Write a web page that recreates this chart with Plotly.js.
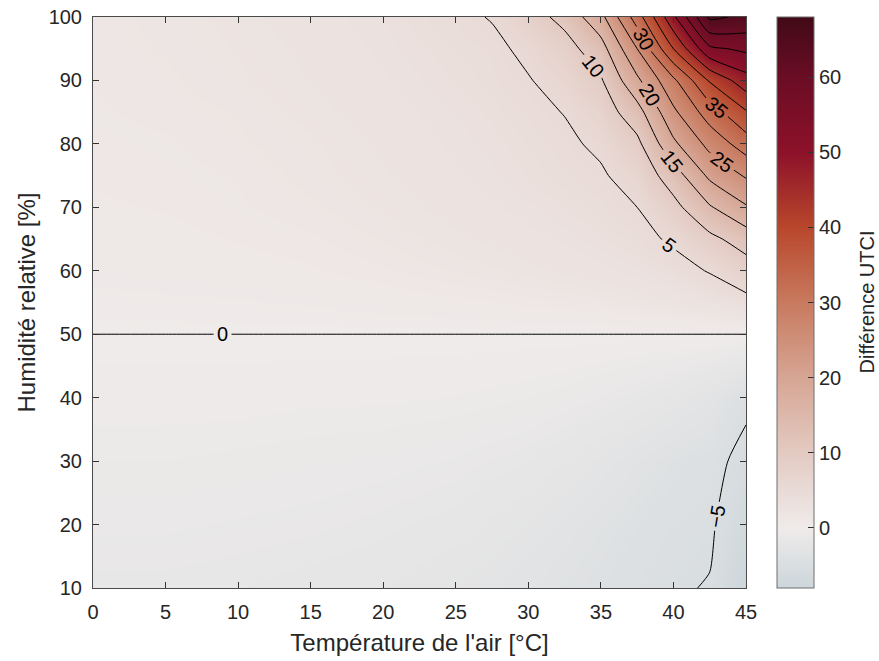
<!DOCTYPE html>
<html>
<head>
<meta charset="utf-8">
<script src="https://cdn.plot.ly/plotly-3.0.1.min.js"></script>
<style>html,body{margin:0;padding:0;background:#fff;}#chart{width:879px;height:661px;}</style>
</head>
<body>
<div id="chart"></div>
<script>
// Air temperature [°C] (columns)
const temperature = [0, 5, 10, 15, 20, 25, 27.5, 30, 32.5, 35, 37.5, 40, 42.5, 45];
// Relative humidity [%] (rows)
const humidity = [10, 20, 30, 40, 50, 55, 60, 65, 70, 75, 80, 85, 90, 95, 100];
// UTCI difference, one row per humidity value
const rh10  = [-1.6, -1.6, -1.7, -1.9, -2.1, -2.5, -2.8, -3.2, -3.6, -4.0, -4.4, -4.8, -5.1, -8.0];
const rh20  = [-1.2, -1.2, -1.3, -1.4, -1.6, -1.9, -2.2, -2.5, -3.0, -3.5, -4.0, -4.4, -4.7, -6.6];
const rh30  = [-0.8, -0.8, -0.9, -1.0, -1.1, -1.3, -1.5, -1.7, -2.1, -2.6, -3.2, -3.8, -4.2, -5.8];
const rh40  = [-0.4, -0.4, -0.4, -0.5, -0.5, -0.6, -0.7, -0.8, -1.0, -1.3, -1.7, -2.2, -2.9, -4.4];
const rh50  = [0, 0, 0, 0, 0, 0, 0, 0, 0, 0, 0, 0, 0, 0];
const rh55  = [0.3, 0.35, 0.4, 0.5, 0.7, 0.9, 1.0, 1.2, 1.3, 1.5, 1.8, 2.2, 2.8, 3.8];
const rh60  = [0.6, 0.7, 0.8, 1.0, 1.3, 1.7, 1.9, 2.1, 2.4, 2.7, 3.1, 3.8, 5.2, 7.7];
const rh65  = [0.8, 0.9, 1.1, 1.3, 1.7, 2.2, 2.4, 2.7, 3.0, 3.4, 4.0, 5.5, 8.8, 12.2];
const rh70  = [1.0, 1.1, 1.3, 1.6, 2.0, 2.5, 2.8, 3.1, 3.5, 4.0, 5.0, 8.5, 14.5, 19.5];
const rh75  = [1.1, 1.2, 1.4, 1.8, 2.2, 2.8, 3.1, 3.5, 4.0, 4.6, 6.5, 12.5, 21.0, 25.5];
const rh80  = [1.2, 1.3, 1.6, 1.9, 2.4, 3.0, 3.3, 3.8, 4.4, 5.6, 8.8, 19.0, 26.5, 32.5];
const rh85  = [1.3, 1.5, 1.7, 2.1, 2.6, 3.2, 3.6, 4.2, 5.1, 7.2, 13.0, 24.0, 32.5, 39.5];
const rh90  = [1.4, 1.6, 1.9, 2.3, 2.8, 3.5, 4.0, 4.8, 6.4, 9.5, 19.0, 29.0, 40.5, 48.0];
const rh95  = [1.5, 1.7, 2.0, 2.4, 3.0, 3.8, 4.2, 5.8, 8.0, 13.0, 25.0, 40.0, 54.0, 56.0];
const rh100 = [1.5, 1.8, 2.1, 2.6, 3.2, 4.2, 5.2, 7.8, 11.5, 18.5, 32.5, 49.0, 66.0, 64.0];
const utciDiff = [rh10, rh20, rh30, rh40, rh50, rh55, rh60, rh65, rh70, rh75, rh80, rh85, rh90, rh95, rh100];

const xTicks = [0, 5, 10, 15, 20, 25, 30, 35, 40, 45];
const yTicks = [10, 20, 30, 40, 50, 60, 70, 80, 90, 100];
const cbTicks = [0, 10, 20, 30, 40, 50, 60];

const zmin = -8, zmax = 68;
function pos(v){ return (v - zmin) / (zmax - zmin); }
const colorscale = [
  [pos(-8), '#ccd6db'],
  [pos(0),  '#efebea'],
  [pos(10), '#e3cac2'],
  [pos(20), '#d6a593'],
  [pos(30), '#c87a5f'],
  [pos(40), '#b8472c'],
  [pos(50), '#8c1129'],
  [pos(60), '#6a0d25'],
  [pos(68), '#410a16']
];

const txt = '#262626';
const fontFam = 'Liberation Sans, Arial, Helvetica, sans-serif';

const colourField = {
  type: 'heatmap',
  x: temperature,
  y: humidity,
  z: utciDiff,
  zmin: zmin, zmax: zmax, zauto: false,
  zsmooth: 'best',
  colorscale: colorscale,
  hoverinfo: 'skip',
  colorbar: {
    x: (777 - 93) / 653, xanchor: 'left', xref: 'paper',
    y: 0.5, yanchor: 'middle', len: 1, lenmode: 'fraction',
    thickness: 37, thicknessmode: 'pixels',
    outlinecolor: '#6e6e6e', outlinewidth: 1,
    tickvals: cbTicks, ticks: 'inside', ticklen: 6, tickcolor: '#333',
    ticklabelstandoff: 5,
    tickfont: {family: fontFam, size: 20, color: txt},
    xpad: 0, ypad: 0
  }
};

const contourLines = {
  type: 'contour',
  x: temperature,
  y: humidity,
  z: utciDiff,
  showscale: false,
  contours: {
    start: -5, end: 65, size: 5,
    coloring: 'none',
    showlabels: true,
    labelfont: {family: fontFam, size: 20, color: '#000'}
  },
  line: {color: '#000', width: 1, smoothing: 0.6},
  hoverinfo: 'skip'
};

const layout = {
  width: 879, height: 661,
  margin: {l: 93, r: 133, t: 17, b: 73},
  paper_bgcolor: '#fff', plot_bgcolor: '#fff',
  showlegend: false,
  hovermode: false,
  xaxis: {
    range: [0, 45], tickvals: xTicks, ticks: 'inside', ticklen: 6, tickcolor: '#333',
    mirror: 'ticks', showline: true, linecolor: '#4a4a4a', linewidth: 1,
    showgrid: false, zeroline: false,
    ticklabelstandoff: 6,
    tickfont: {family: fontFam, size: 20, color: txt},
    title: {text: "Température de l'air [°C]", font: {family: fontFam, size: 24, color: txt}, standoff: 12}
  },
  yaxis: {
    range: [10, 100], tickvals: yTicks, ticks: 'inside', ticklen: 6, tickcolor: '#333',
    mirror: 'ticks', showline: true, linecolor: '#4a4a4a', linewidth: 1,
    showgrid: false, zeroline: false,
    ticklabelstandoff: 6,
    tickfont: {family: fontFam, size: 20, color: txt},
    title: {text: 'Humidité relative [%]', font: {family: fontFam, size: 24, color: txt}, standoff: 6}
  },
  annotations: [{
    text: 'Différence UTCI', textangle: -90,
    xref: 'paper', yref: 'paper', x: (866 - 93) / 653, y: 0.5,
    xanchor: 'center', yanchor: 'middle', showarrow: false,
    font: {family: fontFam, size: 20, color: txt}
  }]
};

Plotly.newPlot('chart', [colourField, contourLines], layout, {displayModeBar: false, staticPlot: true});
</script>
</body>
</html>
